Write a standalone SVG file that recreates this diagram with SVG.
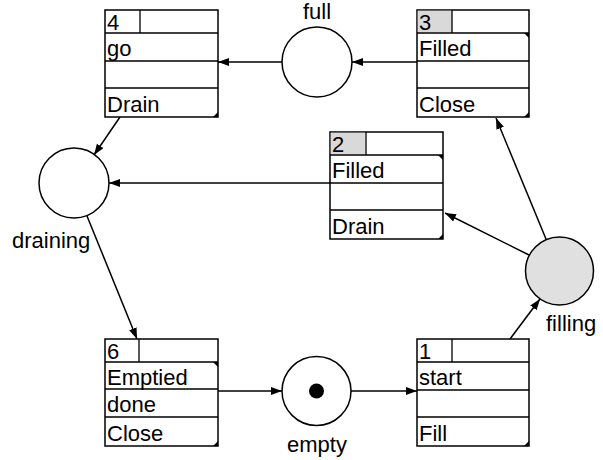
<svg xmlns="http://www.w3.org/2000/svg" width="603" height="460" viewBox="0 0 603 460">
<style>
text{font-family:"Liberation Sans",Arial,Helvetica,sans-serif;font-size:22px;fill:#000}
.box{fill:#fff;stroke:#000;stroke-width:1.5}
.row{fill:none;stroke:#000;stroke-width:1.3}
.hd{fill:#d9d9d9}
.place{fill:#fff;stroke:#000;stroke-width:1.5}
.tri{fill:#000}
.conn{fill:none;stroke:#000;stroke-width:1.5;marker-end:url(#ah)}
</style>
<defs>
<marker id="ah" markerUnits="userSpaceOnUse" markerWidth="12" markerHeight="10" refX="11" refY="4" orient="auto">
<path d="M0,0 L11,4 L0,8 z" fill="#000"/>
</marker>
</defs>
<g id="connectors">
<path class="conn" d="M417,62 L352,62"/>
<path class="conn" d="M282,62 L218,62"/>
<path class="conn" d="M120,117 L94,155"/>
<path class="conn" d="M330,183 L109,183"/>
<path class="conn" d="M87,216 L137,339"/>
<path class="conn" d="M218,391 L282,391"/>
<path class="conn" d="M351,391 L417,391"/>
<path class="conn" d="M510,339 L540,299"/>
<path class="conn" d="M529,255 L445,213"/>
<path class="conn" d="M546,239 L496,118"/>
</g>
<g id="full">
<circle class="place" cx="317" cy="62" r="35"/>
<text x="317" y="19" text-anchor="middle">full</text>
</g>
<g id="draining">
<circle class="place" cx="74" cy="183" r="35"/>
<text x="12" y="248">draining</text>
</g>
<g id="empty">
<circle class="place" cx="316.5" cy="391" r="34.5"/>
<circle cx="316.5" cy="391" r="7.5" fill="#000"/>
<text x="317" y="452" text-anchor="middle">empty</text>
</g>
<g id="filling">
<circle class="place" cx="559.5" cy="271" r="34" style="fill:#e0e0e0"/>
<text x="546" y="331">filling</text>
</g>
<g id="t4">
<rect class="box" x="105" y="10" width="113" height="107"/>
<path class="row" d="M105,33 H218 M105,61 H218 M105,88 H218 M140,10 V33"/>
<path class="tri" d="M218,117 L213,117 L218,112 z"/>
<text x="107" y="30">4</text>
<text x="107" y="56">go</text>
<text x="107" y="112">Drain</text>
</g>
<g id="t3">
<rect class="box" x="417" y="10" width="112" height="107"/>
<rect class="hd" x="417.75" y="10.75" width="34.5" height="21.5"/>
<path class="row" d="M417,33 H529 M417,61 H529 M417,88 H529 M452,10 V33"/>
<path class="tri" d="M529,33 L524,33 L529,38 z M529,117 L524,117 L529,112 z"/>
<text x="419" y="30">3</text>
<text x="419" y="56">Filled</text>
<text x="419" y="112">Close</text>
</g>
<g id="t2">
<rect class="box" x="330" y="132" width="113" height="107"/>
<rect class="hd" x="330.75" y="132.75" width="34.5" height="21.5"/>
<path class="row" d="M330,155 H443 M330,183 H443 M330,210 H443 M366,132 V155"/>
<path class="tri" d="M443,155 L438,155 L443,160 z M443,239 L438,239 L443,234 z"/>
<text x="332" y="152">2</text>
<text x="332" y="178">Filled</text>
<text x="332" y="234">Drain</text>
</g>
<g id="t6">
<rect class="box" x="105" y="339" width="113" height="107"/>
<path class="row" d="M105,362 H218 M105,389 H218 M105,417 H218 M139,339 V362"/>
<path class="tri" d="M218,362 L213,362 L218,367 z M218,446 L213,446 L218,441 z"/>
<text x="107" y="359">6</text>
<text x="107" y="385">Emptied</text>
<text x="107" y="412">done</text>
<text x="107" y="441">Close</text>
</g>
<g id="t1">
<rect class="box" x="417" y="339" width="112" height="107"/>
<path class="row" d="M417,362 H529 M417,390 H529 M417,417 H529 M452,339 V362"/>
<path class="tri" d="M529,446 L524,446 L529,441 z"/>
<text x="419" y="359">1</text>
<text x="419" y="385">start</text>
<text x="419" y="441">Fill</text>
</g>
</svg>
